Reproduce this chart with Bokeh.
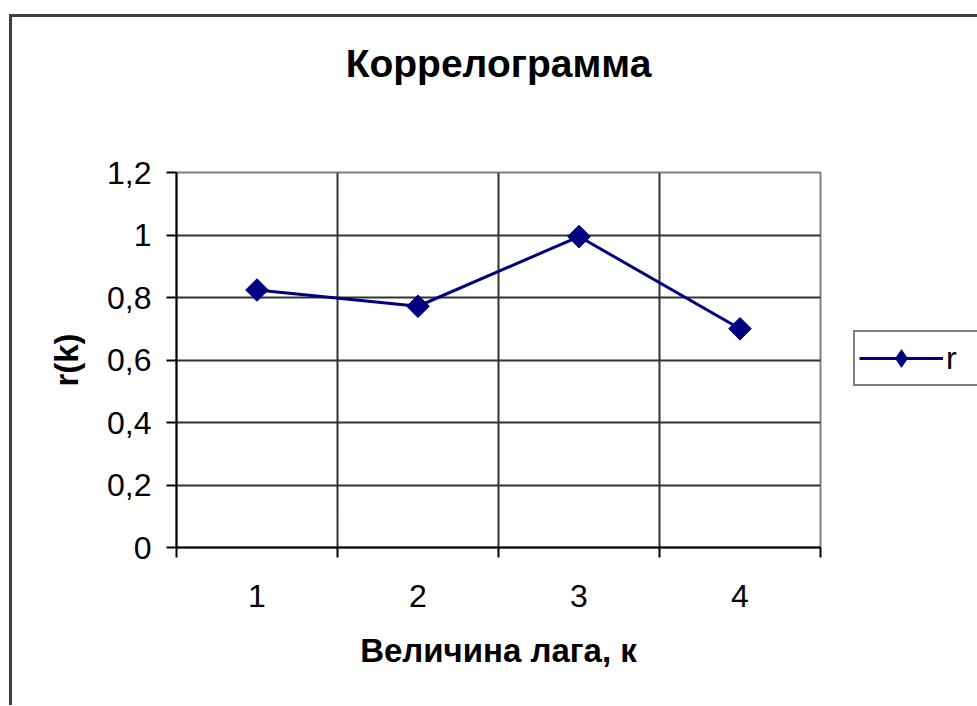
import numpy as np
from bokeh.plotting import figure
from bokeh.models import (Range1d, FixedTicker, Legend, LegendItem, ColumnDataSource,
                          LinearAxis)
from bokeh.embed import file_html
from bokeh.resources import INLINE

# ---- data ----
lags = [1, 2, 3, 4]
x_tick_labels = ["1", "2", "3", "4"]
r_values = [0.824, 0.772, 0.995, 0.700]
y_ticks = [0, 0.2, 0.4, 0.6, 0.8, 1.0, 1.2]
y_tick_labels = ["0", "0,2", "0,4", "0,6", "0,8", "1", "1,2"]
title_text = "Коррелограмма"
x_title = "Величина лага, к"
y_title = "r(k)"
series_name = "r"

FONT = "Liberation Sans"
NAVY = "#000080"

src = ColumnDataSource(dict(lag=lags, r=r_values))

p = figure(frame_width=644, frame_height=375,
           x_range=Range1d(0.5, 4.5), y_range=Range1d(0, 1.2),
           output_backend="svg", toolbar_location=None,
           min_border_left=164, min_border_right=156,
           min_border_top=155, min_border_bottom=158)
p.margin = (14, 0, 0, 9)
p.styles = {"border-left": "3px solid #404040", "border-top": "3px solid #404040"}

p.background_fill_color = "white"
p.border_fill_color = "white"
p.outline_line_color = "#808080"
p.outline_line_width = 2

# x axis (bottom): labels at category centres, ticks at boundaries
xa = p.below[0]
xa.ticker = FixedTicker(ticks=lags, minor_ticks=[l - 0.5 for l in lags] + [lags[-1] + 0.5])
xa.major_label_overrides = dict(zip(lags, x_tick_labels))
xa.major_tick_out = 0
xa.major_tick_in = 0
xa.minor_tick_out = 10
xa.minor_tick_in = 0
xa.minor_tick_line_color = "black"
xa.minor_tick_line_width = 2
xa.axis_line_color = "black"
xa.axis_line_width = 2
xa.major_label_text_font = FONT
xa.major_label_text_font_size = "32px"
xa.major_label_text_color = "black"
xa.major_label_standoff = 27
xa.axis_label = x_title
xa.axis_label_text_font = FONT
xa.axis_label_text_font_size = "33px"
xa.axis_label_text_font_style = "bold"
xa.axis_label_text_color = "black"
xa.axis_label_standoff = 22

ya = p.left[0]
ya.ticker = FixedTicker(ticks=y_ticks)
ya.major_label_overrides = dict(zip(y_ticks, y_tick_labels))
ya.major_tick_out = 10
ya.major_tick_in = 0
ya.major_tick_line_color = "black"
ya.major_tick_line_width = 2
ya.minor_tick_out = 0
ya.minor_tick_in = 0
ya.axis_line_color = "black"
ya.axis_line_width = 2
ya.major_label_text_font = FONT
ya.major_label_text_font_size = "32px"
ya.major_label_text_color = "black"
ya.major_label_standoff = 15
ya.axis_label = y_title
ya.axis_label_text_font = FONT
ya.axis_label_text_font_size = "33px"
ya.axis_label_text_font_style = "bold"
ya.axis_label_text_color = "black"
ya.axis_label_standoff = 19

# chart title, drawn as the label of a bare axis above the frame
title_axis = LinearAxis(ticker=FixedTicker(ticks=[]), axis_label=title_text)
title_axis.axis_line_color = None
title_axis.major_tick_out = 0
title_axis.major_tick_in = 0
title_axis.minor_tick_out = 0
title_axis.minor_tick_in = 0
title_axis.major_label_standoff = 0
title_axis.axis_label_text_font = FONT
title_axis.axis_label_text_font_size = "39px"
title_axis.axis_label_text_font_style = "bold"
title_axis.axis_label_text_color = "black"
title_axis.axis_label_standoff = 88
p.add_layout(title_axis, "above")

# grids (inner lines only; outer edges are the frame)
p.xgrid.ticker = FixedTicker(ticks=[l + 0.5 for l in lags[:-1]])
p.xgrid.grid_line_color = "#333333"
p.xgrid.grid_line_width = 2
p.ygrid.ticker = FixedTicker(ticks=y_ticks[1:-1])
p.ygrid.grid_line_color = "#333333"
p.ygrid.grid_line_width = 2

ln = p.line(x="lag", y="r", source=src, line_color=NAVY, line_width=3)
# small diamonds hidden under the rotated squares; used for the legend symbol
# (the legend does not draw marker rotation)
lg_marker = p.scatter(x="lag", y="r", source=src, marker="diamond", size=10,
                      fill_color=NAVY, line_color=NAVY)
sc = p.scatter(x="lag", y="r", source=src, marker="square", angle=np.pi / 4,
               size=16, fill_color=NAVY, line_color=NAVY)

legend = Legend(items=[LegendItem(label=series_name, renderers=[ln, lg_marker])],
                location=(33, 161))
legend.margin = 0
legend.border_line_color = "black"
legend.border_line_width = 2.5
legend.background_fill_color = "white"
legend.background_fill_alpha = 1
legend.padding = 4
legend.label_text_font = FONT
legend.label_text_font_size = "32px"
legend.label_text_color = "black"
legend.glyph_width = 84
legend.glyph_height = 44
legend.label_height = 44
legend.label_width = 30
legend.label_standoff = 3
p.add_layout(legend, "right")

open("out.html", "w").write(file_html(p, INLINE))
